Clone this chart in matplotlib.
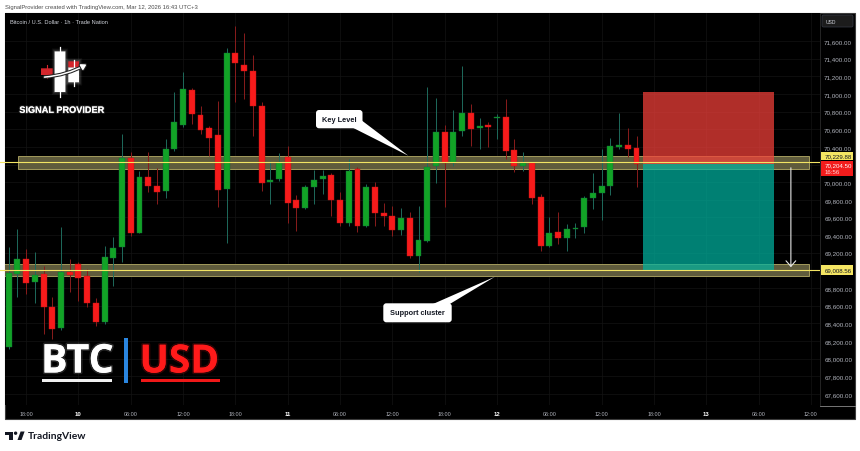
import numpy as np
import matplotlib
matplotlib.use('Agg')
import matplotlib.pyplot as plt
from matplotlib.patches import Rectangle, FancyBboxPatch, Polygon, Circle, FancyArrowPatch
import matplotlib.patheffects as pe
import matplotlib.transforms as mtransforms

plt.rcParams['font.family'] = ['Liberation Sans', 'DejaVu Sans']

# BTC/USD 1h, Mar 9 16:00 -> Mar 12 16:00 (one value per hourly candle)
opens = [68133, 68963, 69133, 68873, 68960, 68589, 68345, 68986, 69073, 68937,
         68631, 68413, 69138, 69266, 70271, 69428, 70062, 69960, 69904, 70376,
         70648, 71048, 70762, 70611, 70535, 69926, 71467, 71328, 71260, 70860,
         70002, 70033, 70286, 69798, 69711, 69942, 70040, 70085, 69798, 69541,
         70153, 69500, 69942, 69648, 69620, 69460, 69594, 69160, 69337, 70180,
         70565, 70218, 70584, 70784, 70611, 70637, 70728, 70735, 70365, 70187,
         70214, 69829, 69281, 69432, 69364, 69466, 69489, 69818, 69881, 69954,
         70402, 70425, 70388]
highs = [69266, 69470, 69243, 69209, 69054, 68699, 69489, 69130, 69092, 69017,
         68685, 69281, 69376, 70546, 70339, 70124, 70346, 70158, 70490, 71019,
         71252, 71070, 70860, 70633, 70924, 71517, 71767, 71691, 71441, 70912,
         70244, 70328, 70407, 69858, 69972, 70142, 70142, 70104, 69886, 70263,
         70169, 69980, 70006, 69764, 69734, 69708, 69666, 69734, 71075, 70951,
         70648, 70818, 71313, 70886, 70724, 70679, 70773, 70943, 70490, 70346,
         70226, 69866, 69602, 69659, 69526, 69538, 69847, 70104, 70376, 70497,
         70784, 70611, 70520]
lows = [68110, 68699, 68733, 68631, 68280, 68223, 68330, 68759, 68657, 68589,
        68374, 68393, 68820, 69099, 69387, 69424, 69892, 69750, 69821, 70354,
        70626, 70660, 70546, 70300, 69716, 69311, 70905, 70943, 70520, 69900,
        69753, 70010, 69538, 69450, 69696, 69753, 69870, 69620, 69500, 69500,
        69432, 69490, 69507, 69500, 69387, 69405, 69141, 68979, 69326, 69988,
        69722, 70187, 70527, 70414, 70376, 70396, 70490, 70263, 70119, 70130,
        69753, 69224, 69262, 69300, 69224, 69364, 69421, 69696, 69575, 69858,
        70376, 70282, 69942]
closes = [68971, 69133, 68861, 68952, 68589, 68337, 68986, 68952, 68911, 68628,
          68419, 69149, 69254, 70274, 69421, 70056, 69960, 69892, 70376, 70679,
          71056, 70773, 70592, 70504, 69915, 71461, 71347, 71263, 70860, 69994,
          70022, 70226, 69761, 69711, 69942, 70028, 70070, 69798, 69541, 70130,
          69507, 69942, 69648, 69620, 69458, 69594, 69160, 69345, 70169, 70565,
          70218, 70565, 70781, 70603, 70637, 70629, 70742, 70357, 70187, 70214,
          69821, 69281, 69424, 69364, 69466, 69481, 69818, 69881, 69954, 70410,
          70425, 70380, 70204.5]

time_ticks = [2, 8, 14, 20, 26, 32, 38, 44, 50, 56, 62, 68, 74, 80, 86, 92]
time_labels = ['18:00', '10', '06:00', '12:00', '18:00', '11', '06:00', '12:00',
               '18:00', '12', '06:00', '12:00', '18:00', '13', '06:00', '12:00']
price_ticks = list(range(67600, 71601, 200))

key_level = 70229.88
key_band = (70150, 70295)
support_level = 69008.56
support_band = (68934, 69073)
entry, stop, target = 70204.5, 71026, 68995
pos_start, pos_end = 72.78, 87.8

GREEN, RED = '#12a326', '#f71b1b'

fig = plt.figure(figsize=(8.6, 4.52), dpi=100)
fig.patch.set_facecolor('white')

bg = fig.add_axes([0, 0, 1, 1], zorder=-1)
bg.set_xlim(0, 860); bg.set_ylim(452, 0); bg.axis('off')
bg.add_patch(Rectangle((5, 14), 850, 406, facecolor='black', edgecolor='#3c3c3c', lw=0.8))

ax = fig.add_axes([5/860, 46/452, 815/860, 392/452])
ax.set_facecolor('black')
ax.set_xlim(-0.42, 93.04)
ax.set_ylim(67475, 71917)
for s in ['top', 'left', 'bottom']:
    ax.spines[s].set_visible(False)
ax.spines['right'].set_color('#2a2a2a')
ax.spines['right'].set_linewidth(0.6)

ax.yaxis.tick_right()
ax.set_yticks(price_ticks)
ax.set_yticklabels(['' if v in (70200, 69000) else f'{v:,.2f}' for v in price_ticks])
ax.tick_params(axis='y', length=0, pad=3, labelsize=4.5, labelcolor='#b2b5be')
ax.set_xticks(time_ticks)
ax.set_xticklabels(time_labels)
ax.tick_params(axis='x', length=0, pad=4, labelsize=3.9, labelcolor='#b2b5be')
for t in ax.get_xticklabels():
    if ':' not in t.get_text():
        t.set_fontweight('bold'); t.set_color('white'); t.set_fontsize(4.3)
ax.grid(True, color='#141414', lw=0.5)
ax.set_axisbelow(True)

# candles
o = np.array(opens); h = np.array(highs); l = np.array(lows); c = np.array(closes)
x = np.arange(len(o))
up = c >= o
ax.vlines(x, l, h, colors=np.where(up, '#1e6b5c', '#8a1c1c'), lw=0.7, zorder=3)
bottoms = np.minimum(o, c)
heights = np.maximum(np.abs(c - o), 14)
ax.bar(x, heights, 0.68, bottom=bottoms, color=np.where(up, GREEN, RED),
       edgecolor=np.where(up, '#0f6e3a', '#c01515'), lw=0.3, zorder=4)

# zones
ax.add_patch(Rectangle((1.1, key_band[0]), 90.7, key_band[1] - key_band[0],
                       facecolor='#5f5b3c', edgecolor='#a39b5c', lw=0.7, zorder=2))
ax.add_patch(Rectangle((-1, support_band[0]), 92.8, support_band[1] - support_band[0],
                       facecolor='#5f5b3c', edgecolor='#a39b5c', lw=0.7, zorder=2))

# short position tool
ax.add_patch(Rectangle((pos_start, entry), pos_end - pos_start, stop - entry,
                       facecolor='#f5403a', alpha=0.72, lw=0, zorder=5))
ax.add_patch(Rectangle((pos_start, target), pos_end - pos_start, entry - target,
                       facecolor='#00b3a0', alpha=0.72, lw=0, zorder=5))
ax.annotate('', xy=(89.7, target + 10), xytext=(89.7, entry - 10),
            arrowprops=dict(arrowstyle='->,head_length=0.4,head_width=0.35',
                            color='#e6e6e6', lw=0.8, mutation_scale=10), zorder=6)

for lv in (key_level, support_level):
    ax.axhline(lv, color='#f2e463', lw=0.8, zorder=6)

# price labels on axis
tr = mtransforms.blended_transform_factory(ax.transAxes, ax.transData)
lw_ax = 32 / 815
ax.add_patch(Rectangle((1.0012, key_level + 22), lw_ax, 94, transform=tr, clip_on=False,
                       facecolor='#f5e663', lw=0, zorder=7))
ax.text(1.0055, key_level + 69, f'{key_level:,.2f}', transform=tr, clip_on=False,
        fontsize=4.4, color='#131722', va='center', ha='left', zorder=8)
ax.add_patch(Rectangle((1.0012, entry - 130), lw_ax, 170, transform=tr, clip_on=False,
                       facecolor='#f21c1c', lw=0, zorder=7))
ax.text(1.0055, entry - 12, f'{entry:,.2f}', transform=tr, clip_on=False,
        fontsize=4.4, color='white', va='center', ha='left', zorder=8)
ax.text(1.0055, entry - 88, '16:56', transform=tr, clip_on=False,
        fontsize=4.4, color='#ffd6d6', va='center', ha='left', zorder=8)
ax.add_patch(Rectangle((1.0012, support_level - 58), lw_ax, 106, transform=tr, clip_on=False,
                       facecolor='#f5e663', lw=0, zorder=7))
ax.text(1.0055, support_level - 5, f'{support_level:,.2f}', transform=tr, clip_on=False,
        fontsize=4.4, color='#131722', va='center', ha='left', zorder=8)

fig.canvas.draw()

fg = fig.add_axes([0, 0, 1, 1], zorder=10)
fg.set_xlim(0, 860); fg.set_ylim(452, 0); fg.axis('off')
fg.patch.set_alpha(0)

# level lines continue into the left margin
for lv in (key_level, support_level):
    yp = 452 - ax.transData.transform((0, lv))[1]
    fg.plot([0, 5], [yp, yp], color='#f2e463', lw=0.8)

# price-axis decorations
fg.add_patch(FancyBboxPatch((822, 16), 31, 12, boxstyle='round,pad=0,rounding_size=1.5',
                            facecolor='#1c1c1c', edgecolor='#363a45', lw=0.5))
fg.text(825.5, 22, 'USD', fontsize=3.6, color='#d1d4dc', va='center', ha='left')
fg.plot([820, 855], [406.5, 406.5], color='#8a8a8a', lw=0.6)

# header / footer
fg.text(5, 7.3, 'SignalProvider created with TradingView.com, Mar 12, 2026 16:43 UTC+3',
        fontsize=4.2, color='#4a4a4a', va='center', ha='left')
fg.text(10, 22, 'Bitcoin / U.S. Dollar \u00b7 1h \u00b7 Trade Nation',
        fontsize=4.1, color='#d1d4dc', va='center', ha='left')
fg.add_patch(Rectangle((5, 432.5), 8, 3, color='#131722', lw=0))
fg.add_patch(Rectangle((9.3, 432.5), 3.5, 8.5, color='#131722', lw=0))
fg.add_patch(Circle((15.6, 434.2), 1.7, color='#131722', lw=0))
fg.add_patch(Polygon([(17.5, 441), (20.6, 432.5), (24.6, 432.5), (21.5, 441)], color='#131722', lw=0))
fg.text(27.5, 437, 'TradingView', fontsize=7.4, fontweight='bold', family='Lato',
        color='#131722', va='center', ha='left')

# logo (soft glow = wider translucent shapes behind)
for pad, a in ((3.2, 0.05), (2.2, 0.08), (1.2, 0.12)):
    fg.add_patch(Rectangle((55 - pad, 52.7 - pad), 10 + 2 * pad, 40 + 2 * pad,
                           color='white', alpha=a, lw=0, snap=False))
    fg.add_patch(Rectangle((68.3 - pad, 62.3 - pad), 10.7 + 2 * pad, 21 + 2 * pad,
                           color='white', alpha=a, lw=0, snap=False))
fg.plot([60, 60], [48, 98], color='white', lw=0.9)
fg.add_patch(Rectangle((54.6, 52.4), 10.8, 40.6, facecolor='white', lw=0, snap=False))
fg.plot([73.7, 73.7], [60.7, 87.3], color='white', lw=0.9)
fg.add_patch(Rectangle((68.3, 68.3), 10.7, 15, facecolor='white', lw=0, snap=False))
fg.add_patch(Rectangle((68.3, 62.3), 10.7, 6, facecolor='#d3262c', lw=0, snap=False))
fg.plot([46.8, 46.8], [66, 79], color='#d3262c', lw=0.8)
fg.add_patch(Rectangle((41, 69.3), 11.7, 6.7, facecolor='#d3262c', lw=0, snap=False))
fg.add_patch(FancyArrowPatch((41.7, 78.3), (89, 64), connectionstyle='arc3,rad=0.12',
                             arrowstyle='-|>,head_length=3,head_width=1.8', color='white',
                             lw=1.1, mutation_scale=1, zorder=4,
                             path_effects=[pe.withStroke(linewidth=2.6, foreground='#222222')]))
fg.text(61.7, 111.3, 'SIGNAL PROVIDER', fontsize=6.6, fontweight='bold', color='white',
        ha='center', va='center',
        path_effects=[pe.withStroke(linewidth=1.5, foreground=(1, 1, 1, 0.15))])

# callouts
fg.add_patch(FancyBboxPatch((316, 111), 46.5, 18.3, boxstyle='round,pad=0,rounding_size=3',
                            facecolor='white', lw=0))
fg.add_patch(Polygon([(353, 128.8), (361.8, 121.5), (408.3, 156.7)], facecolor='white', lw=0))
fg.text(339.2, 120.3, 'Key Level', fontsize=5.3, fontweight='bold', color='#131722',
        ha='center', va='center')
fg.add_patch(FancyBboxPatch((383.3, 304.3), 68.4, 19, boxstyle='round,pad=0,rounding_size=3',
                            facecolor='white', lw=0))
fg.add_patch(Polygon([(433, 305), (449, 305.5), (495, 277.7)], facecolor='white', lw=0))
fg.text(417.5, 314, 'Support cluster', fontsize=5.3, fontweight='bold', color='#131722',
        ha='center', va='center')

# BTC | USD badge
fg.text(41, 373.5, 'BTC', fontsize=28.5, fontweight='bold', family='Open Sans', color='white',
        ha='left', va='baseline',
        path_effects=[pe.withStroke(linewidth=2.5, foreground=(1, 1, 1, 0.14))])
fg.text(139.5, 373.5, 'USD', fontsize=28, fontweight='bold', family='Open Sans', color='#ff1a1a',
        ha='left', va='baseline',
        path_effects=[pe.withStroke(linewidth=2.5, foreground=(1, 0.1, 0.1, 0.18))])
fg.add_patch(Rectangle((124, 339), 4.3, 45, color='#2a86e0', lw=0))
fg.add_patch(Rectangle((41.7, 380.3), 70, 2.2, color='#f0f0f0', lw=0))
fg.add_patch(Rectangle((140.7, 380.3), 79.3, 2.2, color='#f01818', lw=0))

fig.savefig('out.png', dpi=100, facecolor='white')
